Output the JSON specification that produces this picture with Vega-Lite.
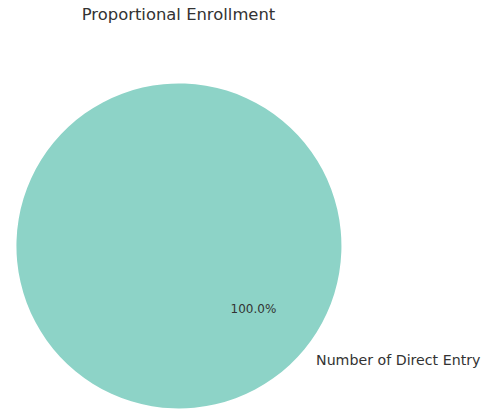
{
  "$schema": "https://vega.github.io/schema/vega-lite/v6.json",
  "autosize": "none",
  "width": 357,
  "height": 325,
  "padding": {"left": 0, "top": 84, "right": 129, "bottom": 2},
  "title": {"text": "Proportional Enrollment", "fontSize": 16.4, "font": "DejaVu Sans", "fontWeight": "normal", "color": "#333333", "offset": 61, "anchor": "middle"},
  "data": {"values": [{"category": "Number of Direct Entry", "value": 1.0}]},
  "encoding": {
    "theta": {"field": "value", "type": "quantitative", "stack": true, "scale": {"range": [-0.876, 5.407]}}
  },
  "layer": [
    {
      "mark": {"type": "arc", "stroke": null},
      "encoding": {"color": {"field": "category", "type": "nominal", "scale": {"range": ["#8dd3c7"]}, "legend": null}}
    },
    {
      "mark": {"type": "text", "radius": 97.5, "font": "DejaVu Sans", "fontSize": 12, "color": "#333333", "baseline": "middle", "align": "center"},
      "encoding": {"text": {"field": "value", "type": "quantitative", "format": ".1%"}}
    },
    {
      "mark": {"type": "text", "radius": 179, "font": "DejaVu Sans", "fontSize": 14.2, "color": "#333333", "baseline": "middle", "align": "left"},
      "encoding": {"text": {"field": "category", "type": "nominal"}}
    }
  ],
  "config": {"view": {"stroke": null}}
}
